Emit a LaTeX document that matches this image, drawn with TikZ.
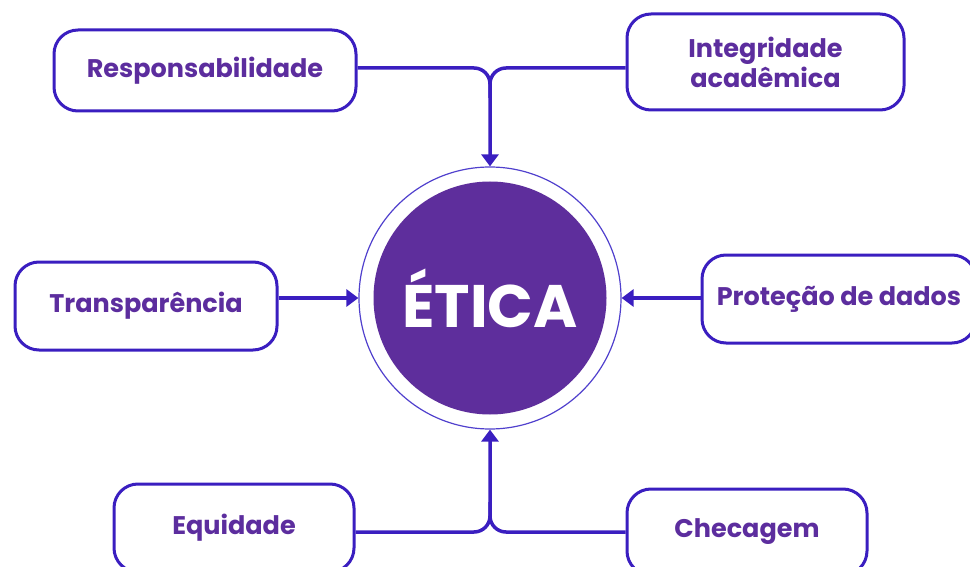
\documentclass[tikz,border=0pt]{standalone}
\usepackage{fontspec}
\setmainfont{Poppins}
\usetikzlibrary{arrows.meta,calc}
\definecolor{linec}{RGB}{58,30,192}
\definecolor{textc}{RGB}{92,45,158}
\definecolor{fillc}{RGB}{94,46,156}
\definecolor{ringc}{RGB}{80,64,205}
\tikzset{
  box/.style={draw=linec, line width=3pt, rounded corners=24pt, fill=white,
    text=textc, font=\fontsize{25.5}{30}\selectfont\bfseries, align=center, inner sep=0pt},
  conn/.style={draw=linec, line width=3.5pt, rounded corners=16pt},
  tip/.style={-{Triangle[length=12pt,width=17pt]}}
}
\begin{document}
\begin{tikzpicture}[x=1pt,y=-1pt]
\useasboundingbox (0,0) rectangle (970,567);
\begin{scope}
\clip (0,0) rectangle (970,567);
% central circle
\node[circle, draw=ringc, line width=1.2pt, minimum size=262pt, inner sep=0pt] (ring) at (490,298) {};
\node[circle, fill=fillc, minimum size=233pt, inner sep=0pt, text=white,
  font=\fontsize{60}{60}\selectfont\bfseries] (etica) at (490,298) {ÉTICA};
% boxes
\node[box, minimum width=302pt, minimum height=81pt] (resp) at (205,70.5) {Responsabilidade};
\node[box, minimum width=277pt, minimum height=96pt] (integ) at (765.5,62) {Integridade\\acadêmica};
\node[box, minimum width=262pt, minimum height=88pt] (transp) at (146,306) {Transparência};
\node[box, minimum width=274pt, minimum height=88pt] (prot) at (839,299) {Proteção de dados};
\node[box, minimum width=240pt, minimum height=88pt] (equi) at (234,528) {Equidade};
\node[box, minimum width=240pt, minimum height=86pt] (cheq) at (747,532) {Checagem};
% junction coordinates
\coordinate (topj) at (490,68);
\coordinate (botj) at (490,532);
% connectors
\draw[conn, tip] (resp.east |- topj) -| (ring.north);
\draw[conn] (integ.west |- topj) -| ($(topj)+(0,30)$);
\draw[conn, tip] (transp.east |- ring.west) -- (ring.west);
\draw[conn, tip] (prot.west |- ring.east) -- (ring.east);
\draw[conn, tip] (equi.east |- botj) -| (ring.south);
\draw[conn] (cheq.west |- botj) -| ($(botj)+(0,-30)$);
\end{scope}
\end{tikzpicture}
\end{document}
